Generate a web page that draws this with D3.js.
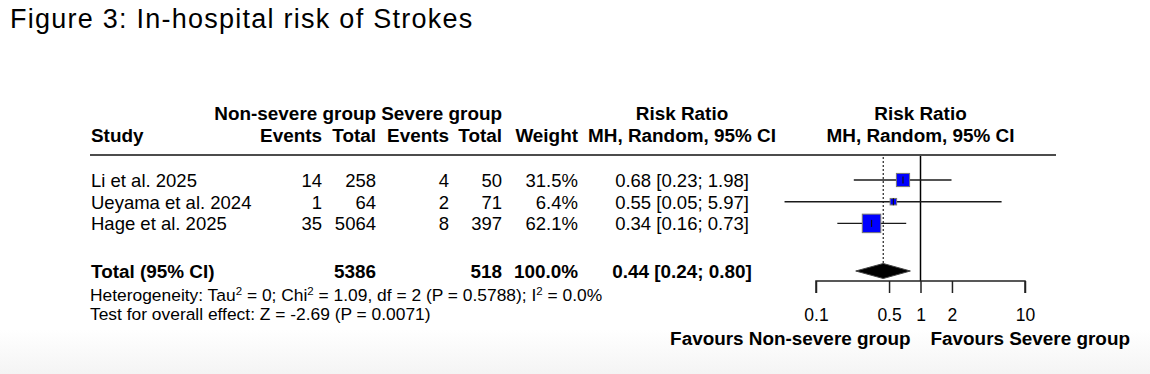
<!DOCTYPE html>
<html>
<head>
<meta charset="utf-8">
<script src="https://cdn.jsdelivr.net/npm/d3@7"></script>
<style>
  body { margin: 0; background: #fff; }
  text { font-family: "Liberation Sans", Arial, Helvetica, sans-serif; fill: #000; }
  .b { font-weight: bold; }
</style>
</head>
<body>
<div id="chart"></div>
<script>
// Data
var studies  = ["Li et al. 2025", "Ueyama et al. 2024", "Hage et al. 2025"];
var eventsNS = [14, 1, 35];
var totalNS  = [258, 64, 5064];
var eventsS  = [4, 2, 8];
var totalS   = [50, 71, 397];
var weights  = [31.5, 6.4, 62.1];
var rr       = [0.68, 0.55, 0.34];
var lower    = [0.23, 0.05, 0.16];
var upper    = [1.98, 5.97, 0.73];
var pooled   = [0.44, 0.24, 0.80];        // RR, lower, upper
var pooledTotals = [5386, 518];
var axisTicks = [0.1, 0.5, 1, 2, 10];

var width = 1150, height = 374;
var fs = 18.5, fsb = 18.9;

var svg = d3.select("#chart")
  .append("svg")
  .attr("width", width)
  .attr("height", height);

// faint grey fade at the bottom of the screenshot
var grad = svg.append("defs").append("linearGradient")
  .attr("id", "fade").attr("x1", 0).attr("y1", 0).attr("x2", 0).attr("y2", 1);
grad.append("stop").attr("offset", "0%").attr("stop-color", "#fff");
grad.append("stop").attr("offset", "100%").attr("stop-color", "#f4f4f4");
svg.append("rect").attr("x", 0).attr("y", 330).attr("width", width).attr("height", 44)
  .attr("fill", "url(#fade)");

// title
svg.append("text")
  .attr("x", 10).attr("y", 27.5)
  .style("font-size", "27px")
  .style("letter-spacing", "1.25px")
  .text("Figure 3: In-hospital risk of Strokes");

// scales
var x = d3.scaleLog().domain([0.1, 10]).range([816, 1025]);
var y = d3.scalePoint().domain(studies).range([180, 223.4]);
var box = d3.scaleSqrt().domain([0, d3.max(weights)]).range([0, 18.5]);

// column right edges / centres
var colStudy = 91, colE1 = 322, colT1 = 376, colE2 = 449, colT2 = 502, colW = 578, colRR = 682;

// bold header / total text
function hdr(txt, xp, yp, anchor) {
  svg.append("text").attr("class", "b")
    .attr("x", xp).attr("y", yp)
    .attr("text-anchor", anchor)
    .style("font-size", fsb + "px")
    .text(txt);
}
hdr("Non-severe group", colT1, 120, "end");
hdr("Severe group", colT2, 120, "end");
hdr("Risk Ratio", colRR, 120, "middle");
hdr("Risk Ratio", x(1), 120, "middle");
hdr("Study", colStudy, 142, "start");
hdr("Events", colE1, 142, "end");
hdr("Total", colT1, 142, "end");
hdr("Events", colE2, 142, "end");
hdr("Total", colT2, 142, "end");
hdr("Weight", colW, 142, "end");
hdr("MH, Random, 95% CI", colRR, 142, "middle");
hdr("MH, Random, 95% CI", x(1), 142, "middle");

svg.append("line")
  .attr("x1", 90).attr("x2", 1056).attr("y1", 155).attr("y2", 155)
  .attr("stroke", "#111").attr("stroke-width", 1.4);

// study rows text
var cols = [
  { vals: studies, x: colStudy, anchor: "start" },
  { vals: eventsNS, x: colE1, anchor: "end" },
  { vals: totalNS, x: colT1, anchor: "end" },
  { vals: eventsS, x: colE2, anchor: "end" },
  { vals: totalS, x: colT2, anchor: "end" },
  { vals: weights.map(function(w) { return w.toFixed(1) + "%"; }), x: colW, anchor: "end" },
  { vals: rr.map(function(r, i) { return r.toFixed(2) + " [" + lower[i].toFixed(2) + "; " + upper[i].toFixed(2) + "]"; }), x: colRR, anchor: "middle" }
];
cols.forEach(function(c) {
  svg.selectAll(null)
    .data(c.vals)
    .enter().append("text")
    .attr("x", c.x)
    .attr("y", function(d, i) { return y(studies[i]) + 6.8; })
    .attr("text-anchor", c.anchor)
    .style("font-size", fs + "px")
    .text(function(d) { return d; });
});

// total row
var yTot = 271;
hdr("Total (95% CI)", colStudy, yTot + 7, "start");
hdr(pooledTotals[0], colT1, yTot + 7, "end");
hdr(pooledTotals[1], colT2, yTot + 7, "end");
hdr(d3.sum(weights).toFixed(1) + "%", colW, yTot + 7, "end");
hdr(pooled[0].toFixed(2) + " [" + pooled[1].toFixed(2) + "; " + pooled[2].toFixed(2) + "]", colRR, yTot + 7, "middle");

// heterogeneity lines
var het = svg.append("text").attr("x", colStudy - 1).attr("y", 300.5).style("font-size", "17.4px");
het.append("tspan").text("Heterogeneity: Tau");
het.append("tspan").attr("dy", -6).style("font-size", "11.5px").text("2");
het.append("tspan").attr("dy", 6).text(" = 0; Chi");
het.append("tspan").attr("dy", -6).style("font-size", "11.5px").text("2");
het.append("tspan").attr("dy", 6).text(" = 1.09, df = 2 (P = 0.5788); I");
het.append("tspan").attr("dy", -6).style("font-size", "11.5px").text("2");
het.append("tspan").attr("dy", 6).text(" = 0.0%");

svg.append("text").attr("x", colStudy - 1).attr("y", 320).style("font-size", "17.4px")
  .text("Test for overall effect: Z = -2.69 (P = 0.0071)");

// reference lines
svg.append("line")
  .attr("x1", x(1)).attr("x2", x(1)).attr("y1", 156).attr("y2", 281)
  .attr("stroke", "#000").attr("stroke-width", 1.5);
svg.append("line")
  .attr("x1", x(pooled[0])).attr("x2", x(pooled[0])).attr("y1", 157).attr("y2", yTot - 8)
  .attr("stroke", "#222").attr("stroke-width", 1.2).attr("stroke-dasharray", "2,2");

// CIs
svg.selectAll(".ci")
  .data(studies)
  .enter().append("line")
  .attr("class", "ci")
  .attr("x1", function(d, i) { return x(lower[i]); })
  .attr("x2", function(d, i) { return x(upper[i]); })
  .attr("y1", function(d) { return y(d); })
  .attr("y2", function(d) { return y(d); })
  .attr("stroke", "#1a1a1a").attr("stroke-width", 1.4);

// boxes, size ~ sqrt(weight)
var side = function(i) { return Math.max(box(weights[i]), 6.5); };
svg.selectAll(".box")
  .data(studies)
  .enter().append("rect")
  .attr("class", "box")
  .attr("x", function(d, i) { return x(rr[i]) - side(i) / 2; })
  .attr("y", function(d, i) { return y(d) - side(i) / 2; })
  .attr("width", function(d, i) { return side(i); })
  .attr("height", function(d, i) { return side(i); })
  .attr("fill", "#0000ff")
  .attr("stroke", "#777").attr("stroke-width", 1);

svg.selectAll(".pt")
  .data(studies)
  .enter().append("line")
  .attr("class", "pt")
  .attr("x1", function(d, i) { return x(rr[i]); })
  .attr("x2", function(d, i) { return x(rr[i]); })
  .attr("y1", function(d) { return y(d) - 3.5; })
  .attr("y2", function(d) { return y(d) + 3.5; })
  .attr("stroke", "#111").attr("stroke-width", 1.2);

// pooled diamond
svg.append("path")
  .attr("d", "M" + x(pooled[1]) + "," + yTot +
             "L" + x(pooled[0]) + "," + (yTot - 7.5) +
             "L" + x(pooled[2]) + "," + yTot +
             "L" + x(pooled[0]) + "," + (yTot + 7.5) + "Z")
  .attr("fill", "#000").attr("stroke", "#444").attr("stroke-width", 1);

// axis
var ax = svg.append("g")
  .attr("transform", "translate(0,281)")
  .call(d3.axisBottom(x).tickValues(axisTicks).tickSize(12).tickPadding(16)
        .tickFormat(function(d) { return String(d); }));
ax.select(".domain").attr("d", "M816,12V0H1025V12").attr("stroke", "#222").attr("stroke-width", 1.5);
ax.selectAll(".tick line").attr("stroke", "#222").attr("stroke-width", 1.5);
ax.selectAll(".tick text")
  .style("font-family", '"Liberation Sans", Arial, sans-serif')
  .style("font-size", "17.5px")
  .attr("fill", "#000");

hdr("Favours Non-severe group", x(1) - 10, 345, "end");
hdr("Favours Severe group", x(1) + 10, 345, "start");
</script>
</body>
</html>
